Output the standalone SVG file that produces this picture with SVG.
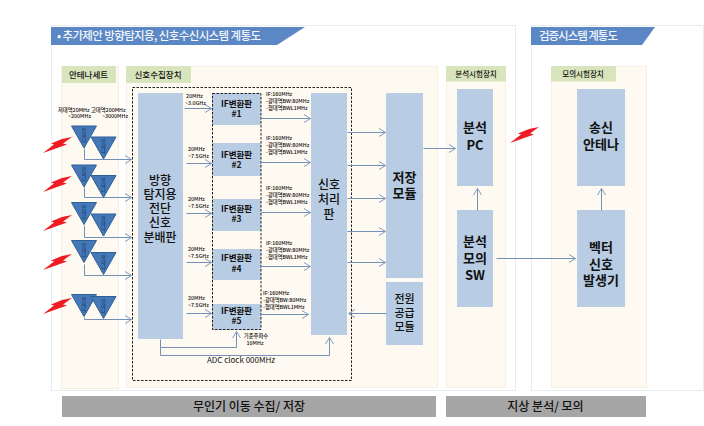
<svg xmlns="http://www.w3.org/2000/svg" width="704" height="426" viewBox="0 0 704 426">
<style>
text{font-family:"Noto Sans CJK KR","Liberation Sans",sans-serif;fill:#111}
.c{text-anchor:middle}
.panel{fill:#fff;stroke:#e8ecf0;stroke-width:1}
.cream{fill:#fef9f1;stroke:#f6efe2;stroke-width:1}
.green{fill:#d8e4bc}
.blue{fill:#b8cce4}
.banner{fill:#5b87c5}
.gray{fill:#a6a6a6}
.tri{fill:#4478b8;stroke:#2f5f96;stroke-width:1}
.bolt{fill:#f01c24}
.big{font-size:13px;font-weight:700}
.mid{font-size:12px;font-weight:500}
.if{font-size:8.500px;font-weight:700}
.sm{font-size:5.300px;font-weight:500}
.tt{font-size:4.800px;fill:#12304f}
.w{fill:#f2f6fb;font-size:11.500px;font-weight:500}
#conn path{fill:none;stroke:#7391b6;stroke-width:1;marker-end:url(#a)}
</style>
<defs>
<marker id="a" markerUnits="userSpaceOnUse" markerWidth="9" markerHeight="10" refX="7.500" refY="5" orient="auto"><path d="M1 1L7.500 5L1 9" fill="none" stroke="#7f9bc0" stroke-width="1"/></marker>
<polygon id="b" points="0,16 11,7.500 8,6.500 19,2 29,0 20,6.500 24,7.500" class="bolt"/>
<g id="ant"><polygon class="tri" points="-12.500,0 12.500,0 0,22"/><text class="tt c" y="6">안</text><text class="tt c" y="11">테</text><text class="tt c" y="16">나</text></g>
</defs>
<rect width="704" height="426" fill="#fff"/>
<rect class="panel" x="51.500" y="25.500" width="464" height="365"/>
<rect class="panel" x="531.500" y="25.500" width="172" height="365"/>

<g id="panels">
<rect class="cream" x="61.500" y="66.500" width="57" height="322"/>
<rect class="cream" x="126.500" y="66.500" width="311" height="321"/>
<rect class="cream" x="446.500" y="66.500" width="59" height="321"/>
<rect class="cream" x="551.500" y="66.500" width="95" height="321"/>
</g>

<g id="banner-main"><polygon class="banner" points="51,27 305,27 277,45 51,45"/><text class="w" x="57" y="40" textLength="204">• 추가제안 방향탐지용, 신호수신시스템 계통도</text></g>
<g id="banner-verify"><polygon class="banner" points="531,27 655,27 642,45 531,45"/><text class="w" x="539" y="40" textLength="79">검증시스템 계통도</text></g>

<g id="label-antenna"><rect class="green" x="62" y="66" width="54" height="17"/><text class="c" x="88.500" y="77.500" font-size="8.500" font-weight="500">안테나세트</text></g>
<g id="label-signal"><rect class="green" x="126" y="66" width="65" height="17"/><text class="c" x="158" y="77.500" font-size="8.500" font-weight="500">신호수집장치</text></g>
<g id="label-analysis"><rect class="green" x="446" y="66" width="60" height="15.500"/><text class="c" x="476" y="76.500" font-size="7.500" font-weight="500">분석시험장치</text></g>
<g id="label-sim"><rect class="green" x="551" y="66" width="65" height="15.500"/><text class="c" x="583" y="76.500" font-size="7.500" font-weight="500">모의시험장치</text></g>

<rect id="dash-outer" x="132.500" y="87.500" width="219" height="293" fill="none" stroke="#222" stroke-width="1" stroke-dasharray="2.500 1.500"/>

<g id="splitter"><rect class="blue" x="138" y="93" width="45" height="246"/>
<text class="c mid" x="160" y="185">방향</text>
<text class="c mid" x="160" y="199">탐지용</text>
<text class="c mid" x="160" y="213">전단</text>
<text class="c mid" x="160" y="227">신호</text>
<text class="c mid" x="160" y="242">분배판</text></g>

<g id="if1"><rect class="blue" x="212" y="93" width="49" height="32"/><text class="c if" x="236.500" y="107">IF변환판</text><text class="c if" x="236.500" y="117">#1</text></g>
<g id="if2"><rect class="blue" x="212" y="143" width="49" height="33"/><text class="c if" x="236.500" y="158">IF변환판</text><text class="c if" x="236.500" y="168">#2</text></g>
<g id="if3"><rect class="blue" x="212" y="199" width="49" height="32"/><text class="c if" x="236.500" y="212">IF변환판</text><text class="c if" x="236.500" y="222">#3</text></g>
<g id="if4"><rect class="blue" x="212" y="249" width="49" height="31"/><text class="c if" x="236.500" y="261">IF변환판</text><text class="c if" x="236.500" y="272">#4</text></g>
<g id="if5"><rect class="blue" x="212" y="304" width="49" height="26"/><text class="c if" x="236.500" y="314">IF변환판</text><text class="c if" x="236.500" y="324">#5</text></g>
<rect id="dash-if" x="212.500" y="93.500" width="48.500" height="236" fill="none" stroke="#222" stroke-width="1" stroke-dasharray="2.500 1.500"/>

<g id="proc"><rect class="blue" x="311" y="93" width="36" height="242"/>
<text class="c mid" x="329" y="189">신호</text><text class="c mid" x="329" y="204">처리</text><text class="c mid" x="329" y="219">판</text></g>
<g id="storage"><rect class="blue" x="386" y="93" width="37" height="185"/><text class="c big" x="404.500" y="182">저장</text><text class="c big" x="404.500" y="198">모듈</text></g>
<g id="power"><rect class="blue" x="386" y="282" width="37" height="63"/><text class="c" font-size="11" font-weight="500" x="404.500" y="303">전원</text><text class="c" font-size="11" font-weight="500" x="404.500" y="317">공급</text><text class="c" font-size="11" font-weight="500" x="404.500" y="331">모듈</text></g>
<g id="pc"><rect class="blue" x="457" y="89" width="36" height="97"/><text class="c big" x="475" y="132">분석</text><text class="c big" x="475" y="150">PC</text></g>
<g id="sw"><rect class="blue" x="457" y="210" width="36" height="97"/><text class="c big" x="475" y="246">분석</text><text class="c big" x="475" y="263">모의</text><text class="c big" x="475" y="280">SW</text></g>
<g id="tx"><rect class="blue" x="577" y="89" width="48" height="97"/><text class="c big" x="601" y="132">송신</text><text class="c big" x="601" y="149">안테나</text></g>
<g id="vsg"><rect class="blue" x="577" y="210" width="48" height="97"/><text class="c big" x="601" y="252">벡터</text><text class="c big" x="601" y="269">신호</text><text class="c big" x="601" y="285">발생기</text></g>

<g id="conn" transform="translate(.5 .5)">
<path d="M84 148V159H131"/><path d="M84 187V197H131"/><path d="M84 225V237H131"/><path d="M84 264V275H131"/><path d="M84 317V319H131"/>
<path d="M184 108H211"/><path d="M186 163H211"/><path d="M186 213H211"/><path d="M186 262H211"/><path d="M186 313H211"/>
<path d="M261 118H310"/><path d="M261 162H310"/><path d="M261 212H310"/><path d="M261 266H310"/><path d="M261 314H308"/>
<path d="M347 132H385"/><path d="M347 165H385"/><path d="M347 198H385"/><path d="M347 231H385"/><path d="M347 262H385"/>
<path d="M386 313H348"/>
<path d="M423 148H455"/>
<path d="M477 210V188"/><path d="M601 210V188"/>
<path d="M496 258H575"/>
<path d="M160 339V347H236V331"/><path d="M160 347V355H329V337"/>
</g>

<g id="antennas">
<use href="#ant" x="84" y="126"/><use href="#ant" x="103.500" y="137"/>
<use href="#ant" x="84" y="165"/><use href="#ant" x="103.500" y="175.500"/>
<use href="#ant" x="84" y="202.500"/><use href="#ant" x="103.500" y="214"/>
<use href="#ant" x="84" y="240.500"/><use href="#ant" x="103.500" y="252.500"/>
<use href="#ant" x="84" y="294.500"/><use href="#ant" x="103.500" y="296.500"/>
</g>

<g id="bolts">
<use href="#b" x="43" y="137"/><use href="#b" x="43" y="176"/><use href="#b" x="43" y="215"/><use href="#b" x="43" y="254"/><use href="#b" x="43" y="298"/><use href="#b" x="510" y="127"/>
</g>

<g id="labels">
<text class="sm" x="58" y="111.500">저대역20MHz</text><text class="sm" x="91" y="111.500">고대역200MHz</text>
<text class="sm" x="68" y="118">~200MHz</text><text class="sm" x="102" y="118">~3000MHz</text>
<text class="sm" x="186" y="98">20MHz</text><text class="sm" x="185" y="104.500">~3.0GHz</text>
<text class="sm" x="188" y="151">20MHz</text><text class="sm" x="188" y="158">~7.5GHz</text>
<text class="sm" x="188" y="201">20MHz</text><text class="sm" x="188" y="208">~7.5GHz</text>
<text class="sm" x="188" y="251">20MHz</text><text class="sm" x="188" y="257.500">~7.5GHz</text>
<text class="sm" x="188" y="300">20MHz</text><text class="sm" x="188" y="307">~7.5GHz</text>
<text class="sm" x="266" y="96">IF:160MHz</text><text class="sm" x="266" y="103">-광대역BW:80MHz</text><text class="sm" x="266" y="110">-협대역BWL1MHz</text>
<text class="sm" x="266" y="140">IF:160MHz</text><text class="sm" x="266" y="147">-광대역BW:80MHz</text><text class="sm" x="266" y="154">-협대역BWL1MHz</text>
<text class="sm" x="266" y="190">IF:160MHz</text><text class="sm" x="266" y="197">-광대역BW:80MHz</text><text class="sm" x="266" y="204">-협대역BWL1MHz</text>
<text class="sm" x="266" y="245">IF:160MHz</text><text class="sm" x="266" y="252">-광대역BW:80MHz</text><text class="sm" x="266" y="259">-협대역BWL1MHz</text>
<text class="sm" x="263" y="295">IF:160MHz</text><text class="sm" x="263" y="302">-광대역BW:80MHz</text><text class="sm" x="263" y="309">-협대역BWL1MHz</text>
<text class="sm c" x="256" y="338">기준주파수</text><text class="sm c" x="255" y="345">10MHz</text>
<text class="c" font-size="8" x="241" y="363">ADC clock 000MHz</text>
</g>

<g id="bar-left"><rect class="gray" x="62" y="396" width="374" height="21"/><text class="c" font-size="12" font-weight="500" x="249" y="410.500">무인기 이동 수집/ 저장</text></g>
<g id="bar-right"><rect class="gray" x="446" y="396" width="200" height="21"/><text class="c" font-size="12" font-weight="500" x="545.500" y="410.500">지상 분석/ 모의</text></g>
</svg>
